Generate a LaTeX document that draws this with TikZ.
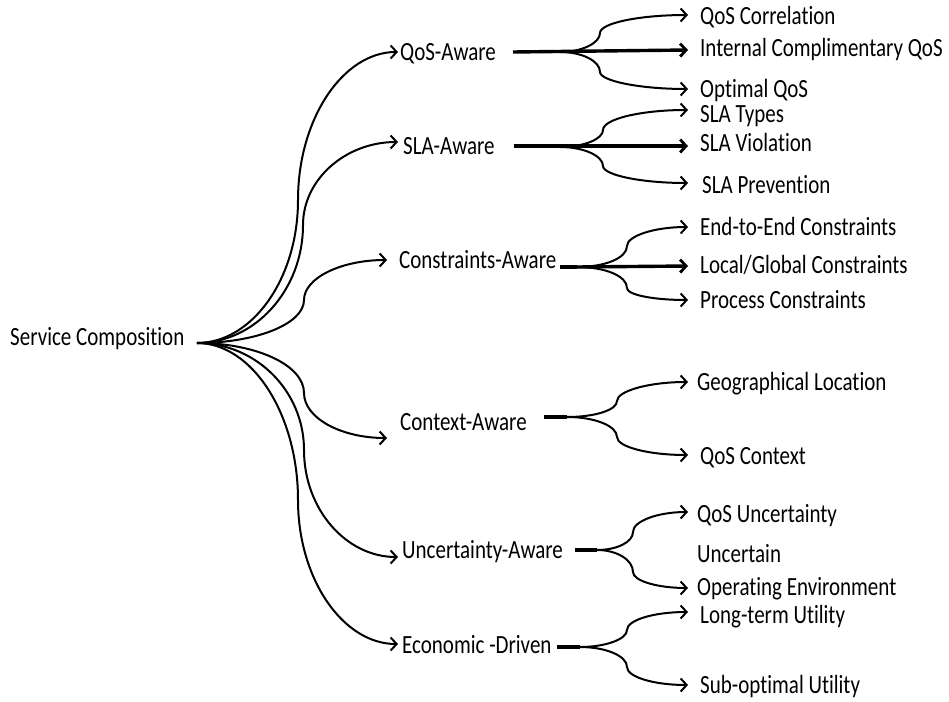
\documentclass[tikz,border=0pt]{standalone}
\usepackage{fontspec}
\usepackage{graphicx}
\setmainfont{Carlito}[Ligatures={NoCommon}]
\usetikzlibrary{arrows.meta}
\newcommand{\tallt}[1]{\scalebox{1}[1.25]{#1}}
\begin{document}
\begin{tikzpicture}[x=1bp,y=-1bp,
  lbl/.style={anchor=west,inner sep=0pt,text height=16.8bp,text depth=0pt,
    font=\fontsize{21bp}{24bp}\selectfont},
  link/.style={line width=2bp,-{Straight Barb[length=6bp,width=13bp,line width=2bp]}},
  trunk/.style={line width=3.4bp,-{Straight Barb[length=6bp,width=13bp,line width=2.8bp]}},
  stem/.style={line width=3.2bp},
]
\useasboundingbox (0,0) rectangle (949,702);

% root
\node[lbl] (root) at (10,337) {\tallt{Service Composition}};
\coordinate (r) at (197,343);

% first level
\node[lbl] (qos)  at (400,52)  {\tallt{QoS-Aware}};
\node[lbl] (sla)  at (403,146) {\tallt{SLA-Aware}};
\node[lbl] (cons) at (399,260) {\tallt{Constraints-Aware}};
\node[lbl] (ctx)  at (400,422) {\tallt{Context-Aware}};
\node[lbl] (unc)  at (402,550) {\tallt{Uncertainty-Aware}};
\node[lbl] (eco)  at (402,645) {\tallt{Economic -Driven}};

% second level
\node[lbl] (qc)   at (700,16)  {\tallt{QoS Correlation}};
\node[lbl] (icq)  at (700,48)  {\tallt{Internal Complimentary QoS}};
\node[lbl] (oq)   at (700,89)  {\tallt{Optimal QoS}};
\node[lbl] (st)   at (700,114) {\tallt{SLA Types}};
\node[lbl] (sv)   at (700,143) {\tallt{SLA Violation}};
\node[lbl] (sp)   at (702,185) {\tallt{SLA Prevention}};
\node[lbl] (ee)   at (700,227) {\tallt{End-to-End Constraints}};
\node[lbl] (lg)   at (700,265) {\tallt{Local/Global Constraints}};
\node[lbl] (pc)   at (700,300) {\tallt{Process Constraints}};
\node[lbl] (gl)   at (697,382) {\tallt{Geographical Location}};
\node[lbl] (qx)   at (700,456) {\tallt{QoS Context}};
\node[lbl] (qu)   at (697,514) {\tallt{QoS Uncertainty}};
\node[lbl] (ue)   at (697,554) {\tallt{Uncertain}};
\node[lbl] (oe)   at (697,587) {\tallt{Operating Environment}};
\node[lbl] (lu)   at (700,615) {\tallt{Long-term Utility}};
\node[lbl] (so)   at (700,685) {\tallt{Sub-optimal Utility}};

% branching points
\coordinate (jq) at (560,52);
\coordinate (js) at (560,147);
\coordinate (jc) at (577,267);
\coordinate (jx) at (567,417);
\coordinate (ju) at (597,550);
\coordinate (je) at (580,647);

% root to first level
\draw[link] (r) .. controls +(55,0) and +(0,79) .. (298,200)
  .. controls +(0,-81) and +(-55,0) .. ([xshift=-2]qos.west);
\draw[link] (r) .. controls +(58,0) and +(0,65) .. (303,225)
  .. controls +(0,-46) and +(-52,0) .. ([shift={(-5,-4)}]sla.west);
\draw[link] (r) .. controls +(59,0) and +(0,24) .. (304,300)
  .. controls +(0,-22) and +(-46,0) .. ([xshift=-12]cons.west);
\draw[link] (r) .. controls +(59,0) and +(0,-28) .. (304,393)
  .. controls +(0,25) and +(-46,0) .. ([shift={(-13,16)}]ctx.west);
\draw[link] (r) .. controls +(59,0) and +(0,-59) .. (304,450)
  .. controls +(0,59) and +(-52,0) .. ([shift={(-4,7)}]unc.west);
\draw[link] (r) .. controls +(55,0) and +(0,-86) .. (298,500)
  .. controls +(0,79) and +(-55,0) .. ([shift={(-4,-1)}]eco.west);

% QoS-Aware
\draw[trunk] ([xshift=17]qos.east) -- ([shift={(-12,2)}]icq.west);
\draw[link] (jq) .. controls +(22,0) and +(0,10) .. (600,33)
  .. controls +(0,-10) and +(-48,0) .. ([shift={(-12,-1)}]qc.west);
\draw[link] (jq) .. controls +(22,0) and +(0,-11) .. (600,72)
  .. controls +(0,9) and +(-48,0) .. ([xshift=-12]oq.west);

% SLA-Aware
\draw[trunk] ([xshift=19]sla.east) -- ([shift={(-12,3)}]sv.west);
\draw[link] (js) .. controls +(24,0) and +(0,9) .. (603,130)
  .. controls +(0,-11) and +(-47,0) .. ([shift={(-12,-4)}]st.west);
\draw[link] (js) .. controls +(24,0) and +(0,-10) .. (603,166)
  .. controls +(0,9) and +(-47,0) .. ([shift={(-14,-2)}]sp.west);

% Constraints-Aware
\draw[stem] ([shift={(4,7)}]cons.east) -- (jc);
\draw[trunk] (jc) -- ([shift={(-12,1)}]lg.west);
\draw[link] (jc) .. controls +(28,0) and +(0,12) .. (627,246)
  .. controls +(0,-10) and +(-34,0) .. ([xshift=-12]ee.west);
\draw[link] (jc) .. controls +(28,0) and +(0,-12) .. (627,288)
  .. controls +(0,7) and +(-34,0) .. ([xshift=-12]pc.west);

% Context-Aware
\draw[stem] ([shift={(17,-5)}]ctx.east) -- (jx);
\draw[link] (jx) .. controls +(28,0) and +(0,9) .. (617,401)
  .. controls +(0,-10) and +(-39,0) .. ([xshift=-9]gl.west);
\draw[link] (jx) .. controls +(28,0) and +(0,-11) .. (617,437)
  .. controls +(0,10) and +(-39,0) .. ([shift={(-12,-1)}]qx.west);

% Uncertainty-Aware
\draw[stem] ([xshift=12]unc.east) -- (ju);
\draw[link] (ju) .. controls +(20,0) and +(0,10) .. (633,532)
  .. controls +(0,-11) and +(-30,0) .. ([shift={(-9,-2)}]qu.west);
\draw[link] (ju) .. controls +(20,0) and +(0,-12) .. (633,572)
  .. controls +(0,9) and +(-30,0) .. ([shift={(-9,1)}]oe.west);

% Economic-Driven
\draw[stem] ([shift={(5,2)}]eco.east) -- (je);
\draw[link] (je) .. controls +(26,0) and +(0,9) .. (627,630)
  .. controls +(0,-10) and +(-34,0) .. ([shift={(-12,-3)}]lu.west);
\draw[link] (je) .. controls +(26,0) and +(0,-11) .. (627,667)
  .. controls +(0,10) and +(-34,0) .. ([xshift=-12]so.west);
\end{tikzpicture}
\end{document}
